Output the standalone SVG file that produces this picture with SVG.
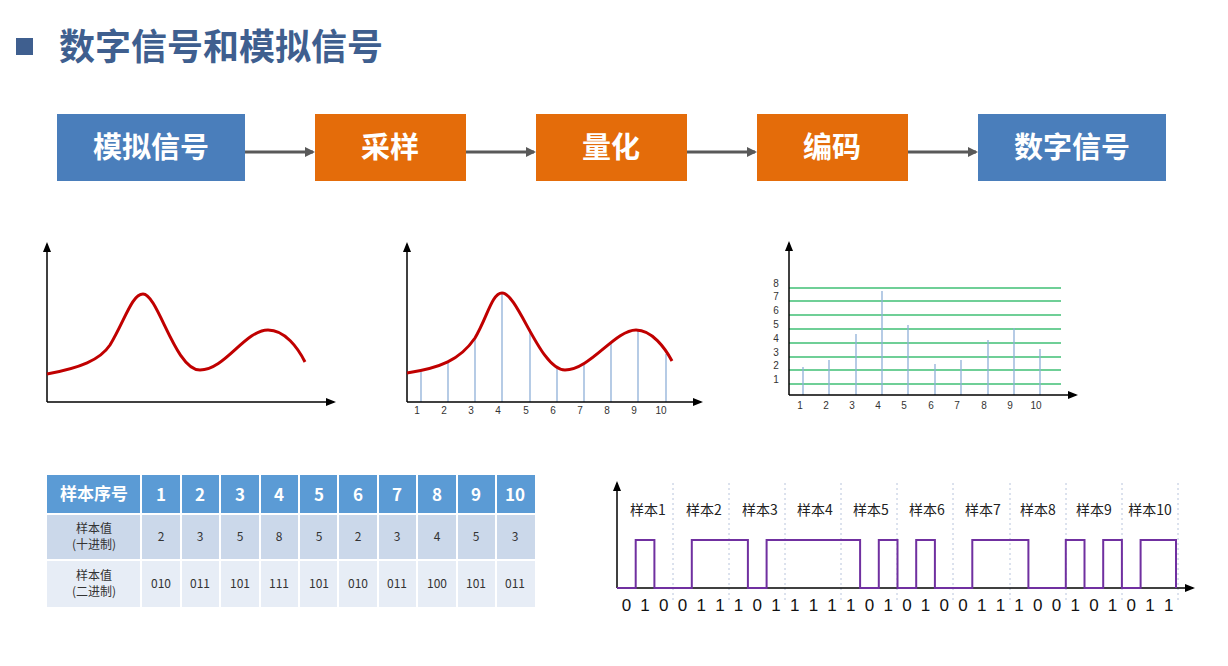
<svg xmlns="http://www.w3.org/2000/svg" width="1228" height="666" viewBox="0 0 1228 666">
<defs>
<marker id="ar" markerWidth="10" markerHeight="10" refX="8" refY="5" orient="auto" markerUnits="userSpaceOnUse"><path d="M0,0 L10,5 L0,10 z" fill="#595959"/></marker>
<marker id="ax" markerWidth="10" markerHeight="10" refX="8" refY="5" orient="auto" markerUnits="userSpaceOnUse"><path d="M0,1 L10,5 L0,9 z" fill="#000"/></marker>
<style>
.t{font-family:"Noto Sans CJK SC","Liberation Sans",sans-serif}
.bx{font-family:"Noto Sans CJK SC",sans-serif;font-size:29px;font-weight:bold;fill:#fff;text-anchor:middle}
.ax{stroke:#000;stroke-width:1.5;fill:none;marker-end:url(#ax)}
.crv{stroke:#c00000;stroke-width:3;fill:none}
.st{stroke:#8fb0d8;stroke-width:1.3}
.gl{stroke:#6fcf97;stroke-width:2}
.sm{font-family:"Liberation Sans",sans-serif;font-size:10px;fill:#333;text-anchor:middle}
.th{font-family:"Noto Sans CJK SC",sans-serif;font-size:17px;font-weight:bold;fill:#fff;text-anchor:middle}
.td{font-family:"Noto Sans CJK SC",sans-serif;font-size:12px;fill:#333;text-anchor:middle}
.dv{stroke:#b8c4dc;stroke-width:1;stroke-dasharray:2,3}
.lb{font-family:"Noto Sans CJK SC",sans-serif;font-size:14px;fill:#222;text-anchor:middle}
</style>
</defs>
<rect width="1228" height="666" fill="#fff"/>
<g id="title"><rect x="16" y="38" width="17" height="17" fill="#3f5f8f"/><text class="t" x="59" y="60" font-size="36" font-weight="bold" fill="#3f5f8f">数字信号和模拟信号</text></g>
<g id="connectors" stroke="#595959" stroke-width="3" fill="none">
<line x1="245" y1="152" x2="313" y2="152" marker-end="url(#ar)"/>
<line x1="466" y1="152" x2="534" y2="152" marker-end="url(#ar)"/>
<line x1="687" y1="152" x2="755" y2="152" marker-end="url(#ar)"/>
<line x1="908" y1="152" x2="976" y2="152" marker-end="url(#ar)"/>
</g>
<g id="n1"><rect x="57" y="114" width="188" height="67" fill="#4a7ebb"/><text class="bx" x="151" y="158">模拟信号</text></g>
<g id="n2"><rect x="315" y="114" width="151" height="67" fill="#e46c0a"/><text class="bx" x="390" y="158">采样</text></g>
<g id="n3"><rect x="536" y="114" width="151" height="67" fill="#e46c0a"/><text class="bx" x="611" y="158">量化</text></g>
<g id="n4"><rect x="757" y="114" width="151" height="67" fill="#e46c0a"/><text class="bx" x="832" y="158">编码</text></g>
<g id="n5"><rect x="978" y="114" width="188" height="67" fill="#4a7ebb"/><text class="bx" x="1072" y="158">数字信号</text></g>
<g id="chart1">
<path class="ax" d="M47,402 V244"/><path class="ax" d="M47,402 H334"/>
<path class="crv" d="M47,374 C80,368 100,360 110,345 C125,320 132,294 143,294 C158,294 175,370 200,370 C225,370 245,330 268,330 C285,330 298,348 305,362"/>
</g>
<g id="chart2">
<g class="st"><line x1="421" y1="402" x2="421" y2="372"/><line x1="448" y1="402" x2="448" y2="363"/><line x1="475" y1="402" x2="475" y2="338"/><line x1="502" y1="402" x2="502" y2="293"/><line x1="530" y1="402" x2="530" y2="329"/><line x1="557" y1="402" x2="557" y2="368"/><line x1="584" y1="402" x2="584" y2="365"/><line x1="611" y1="402" x2="611" y2="343"/><line x1="638" y1="402" x2="638" y2="331"/><line x1="666" y1="402" x2="666" y2="354"/></g>
<path class="ax" d="M407,402 V244"/><path class="ax" d="M407,402 H701"/>
<path class="crv" d="M407,373 C440,368 460,360 475,338 C487,318 492,293 502,293 C518,293 540,370 565,370 C590,370 615,330 636,330 C652,330 665,348 672,361"/>
<text class="sm" y="414"><tspan x="417">1</tspan><tspan x="444">2</tspan><tspan x="471">3</tspan><tspan x="498">4</tspan><tspan x="526">5</tspan><tspan x="553">6</tspan><tspan x="580">7</tspan><tspan x="607">8</tspan><tspan x="634">9</tspan><tspan x="661">10</tspan></text>
</g>
<g id="chart3">
<g class="gl"><line x1="789" y1="288" x2="1061" y2="288"/><line x1="789" y1="301" x2="1061" y2="301"/><line x1="789" y1="315" x2="1061" y2="315"/><line x1="789" y1="329" x2="1061" y2="329"/><line x1="789" y1="343" x2="1061" y2="343"/><line x1="789" y1="357" x2="1061" y2="357"/><line x1="789" y1="370" x2="1061" y2="370"/><line x1="789" y1="384" x2="1061" y2="384"/></g>
<g class="st" stroke="#6d8fbf"><line x1="803" y1="395" x2="803" y2="367"/><line x1="829" y1="395" x2="829" y2="360"/><line x1="856" y1="395" x2="856" y2="334"/><line x1="882" y1="395" x2="882" y2="291"/><line x1="908" y1="395" x2="908" y2="325"/><line x1="935" y1="395" x2="935" y2="364"/><line x1="961" y1="395" x2="961" y2="360"/><line x1="988" y1="395" x2="988" y2="340"/><line x1="1014" y1="395" x2="1014" y2="328"/><line x1="1040" y1="395" x2="1040" y2="349"/></g>
<path class="ax" d="M789,395 V243"/><path class="ax" d="M789,395 H1076"/>
<g class="sm" font-size="8"><text x="776" y="287">8</text><text x="776" y="300">7</text><text x="776" y="314">6</text><text x="776" y="328">5</text><text x="776" y="342">4</text><text x="776" y="356">3</text><text x="776" y="369">2</text><text x="776" y="383">1</text></g>
<text class="sm" y="409"><tspan x="800">1</tspan><tspan x="826">2</tspan><tspan x="852">3</tspan><tspan x="878">4</tspan><tspan x="904">5</tspan><tspan x="931">6</tspan><tspan x="957">7</tspan><tspan x="984">8</tspan><tspan x="1010">9</tspan><tspan x="1036">10</tspan></text>
</g>
<g id="table">
<rect x="47" y="475" width="488" height="38" fill="#5b9bd5"/>
<rect x="47" y="515" width="488" height="44" fill="#cbd8ea"/>
<rect x="47" y="561" width="488" height="46" fill="#e7edf6"/>
<g stroke="#fff" stroke-width="2"><line x1="141" y1="475" x2="141" y2="607"/><line x1="181" y1="475" x2="181" y2="607"/><line x1="220" y1="475" x2="220" y2="607"/><line x1="260" y1="475" x2="260" y2="607"/><line x1="299" y1="475" x2="299" y2="607"/><line x1="338" y1="475" x2="338" y2="607"/><line x1="378" y1="475" x2="378" y2="607"/><line x1="417" y1="475" x2="417" y2="607"/><line x1="457" y1="475" x2="457" y2="607"/><line x1="496" y1="475" x2="496" y2="607"/></g>
<text class="th" x="94" y="500">样本序号</text>
<text class="th" y="501"><tspan x="161">1</tspan><tspan x="200">2</tspan><tspan x="240">3</tspan><tspan x="279">4</tspan><tspan x="319">5</tspan><tspan x="358">6</tspan><tspan x="397">7</tspan><tspan x="437">8</tspan><tspan x="476">9</tspan><tspan x="515">10</tspan></text>
<text class="td" x="94" y="533">样本值</text><text class="td" x="94" y="549">(十进制)</text>
<text class="td" y="541"><tspan x="161">2</tspan><tspan x="200">3</tspan><tspan x="240">5</tspan><tspan x="279">8</tspan><tspan x="319">5</tspan><tspan x="358">2</tspan><tspan x="397">3</tspan><tspan x="437">4</tspan><tspan x="476">5</tspan><tspan x="515">3</tspan></text>
<text class="td" x="94" y="580">样本值</text><text class="td" x="94" y="596">(二进制)</text>
<text class="td" y="588"><tspan x="161">010</tspan><tspan x="200">011</tspan><tspan x="240">101</tspan><tspan x="279">111</tspan><tspan x="319">101</tspan><tspan x="358">010</tspan><tspan x="397">011</tspan><tspan x="437">100</tspan><tspan x="476">101</tspan><tspan x="515">011</tspan></text>
</g>
<g id="digital">
<g class="dv"><line x1="673" y1="483" x2="673" y2="600"/><line x1="729" y1="483" x2="729" y2="600"/><line x1="785" y1="483" x2="785" y2="600"/><line x1="841" y1="483" x2="841" y2="600"/><line x1="897" y1="483" x2="897" y2="600"/><line x1="953" y1="483" x2="953" y2="600"/><line x1="1010" y1="483" x2="1010" y2="600"/><line x1="1066" y1="483" x2="1066" y2="600"/><line x1="1122" y1="483" x2="1122" y2="600"/><line x1="1178" y1="483" x2="1178" y2="600"/></g>
<path class="ax" d="M617,588 V483"/><path class="ax" d="M617,588 H1193"/>
<path d="M617,588 H635.7 V540 H654.4 V588 H691.8 V540 H747.9 V588 H766.6 V540 H860.1 V588 H878.8 V540 H897.5 V588 H916.2 V540 H934.9 V588 H972.3 V540 H1028.4 V588 H1065.8 V540 H1084.5 V588 H1103.2 V540 H1121.9 V588 H1140.6 V540 H1176 V588" fill="none" stroke="#7030a0" stroke-width="2"/>
<text class="lb" y="515"><tspan x="648">样本1</tspan><tspan x="704">样本2</tspan><tspan x="760">样本3</tspan><tspan x="815">样本4</tspan><tspan x="871">样本5</tspan><tspan x="927">样本6</tspan><tspan x="983">样本7</tspan><tspan x="1038">样本8</tspan><tspan x="1094">样本9</tspan><tspan x="1150">样本10</tspan></text>
<text font-family="Liberation Sans,sans-serif" font-size="17" fill="#111" text-anchor="middle" y="611" x="626.4 645.1 663.8 682.5 701.2 719.9 738.6 757.3 776 794.7 813.4 832.1 850.8 869.5 888.2 906.9 925.6 944.3 963 981.7 1000.4 1019.1 1037.8 1056.5 1075.2 1093.9 1112.6 1131.3 1150 1168.7">010011101111101010011100101011</text>
</g>
</svg>
